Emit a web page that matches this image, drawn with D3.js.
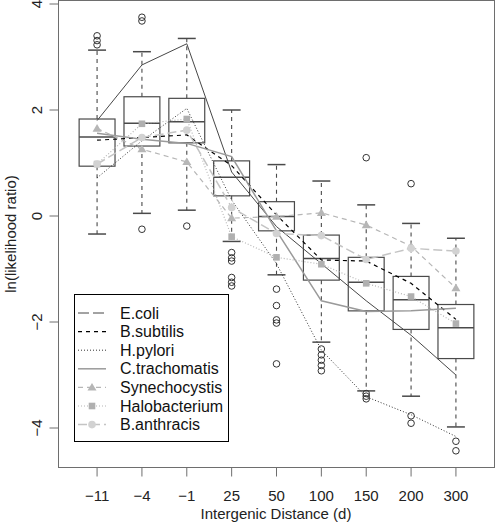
<!DOCTYPE html>
<html><head><meta charset="utf-8">
<script src="https://cdn.jsdelivr.net/npm/d3@7"></script>
<style>html,body{margin:0;padding:0;background:#fff;}svg{display:block;}</style>
</head><body>
<svg id="chart" width="496" height="532"></svg>
<script>
const categories = ["\u221211", "\u22124", "\u22121", "25", "50", "100", "150", "200", "300"];
const whiskerLo = [-0.34, 0.05, 0.11, -0.48, -1.11, -2.38, -3.30, -3.40, -3.98];
const q1 =        [0.94, 1.32, 1.38, 0.38, -0.28, -1.21, -1.79, -2.14, -2.69];
const median =    [1.49, 1.75, 1.78, 0.73, -0.01, -0.80, -1.25, -1.58, -2.11];
const q3 =        [1.83, 2.25, 2.22, 1.04, 0.27, -0.36, -0.78, -1.14, -1.67];
const whiskerHi = [3.13, 3.10, 3.35, 2.00, 0.97, 0.66, 0.21, -0.14, -0.42];
const outliers = [
  [3.40, 3.31, 3.23],
  [3.75, 3.68, -0.25],
  [-0.19],
  [-0.69, -0.79, -0.85, -1.16, -1.25, -1.32],
  [-1.38, -1.69, -1.96, -2.02, -2.79],
  [-2.51, -2.62, -2.72, -2.82, -2.92],
  [1.10, -3.35, -3.40, -3.45],
  [0.61, -3.77, -3.91],
  [-4.25, -4.43]
];
const yTicks = [4, 2, 0, -2, -4];
const yTickLabels = ["4", "2", "0", "\u22122", "\u22124"];

const seriesNames = ["E.coli", "B.subtilis", "H.pylori", "C.trachomatis", "Synechocystis", "Halobacterium", "B.anthracis"];
const ecoli =         [1.80, 2.85, 3.25, 0.83, -0.20, -0.90, -1.60, -2.25, -3.00];
const bsubtilis =     [1.43, 1.48, 1.53, 0.95, 0.02, -0.83, -0.85, -1.27, -1.95];
const hpylori =       [0.72, 1.42, 2.03, 0.30, -0.90, -2.53, -3.41, -3.75, -4.16];
const ctrachomatis =  [1.56, 1.45, 1.37, 1.12, -0.28, -1.60, -1.80, -1.79, -1.74];
const synechocystis = [1.65, 1.26, 1.02, -0.04, -0.01, 0.06, -0.17, -0.57, -1.36];
const halobacterium = [0.98, 1.74, 1.83, -0.39, -0.78, -0.91, -1.27, -1.52, -2.03];
const banthracis =    [0.98, 1.48, 1.62, 0.16, -0.33, -0.37, -0.82, -0.61, -0.66];

const seriesValues = [ecoli, bsubtilis, hpylori, ctrachomatis, synechocystis, halobacterium, banthracis];
const styles = [
  {color:"#474747", width:1, dash:null, legendDash:"11,4", marker:null},
  {color:"#000", width:1.2, dash:"4,4", legendDash:"4,4", marker:null},
  {color:"#333", width:1, dash:"1,2", legendDash:"1,2", marker:null},
  {color:"#9a9a9a", width:1.5, dash:null, legendDash:null, marker:null},
  {color:"#b6b6b6", width:1.2, dash:"5,4", legendDash:"5,4", marker:"triangle", mcolor:"#b6b6b6"},
  {color:"#b6b6b6", width:1.2, dash:"1,2", legendDash:"1,2", marker:"square", mcolor:"#b0b0b0"},
  {color:"#c4c4c4", width:1.5, dash:"9,4", legendDash:"9,4", marker:"circle", mcolor:"#d2d2d2"}
];

const svg = d3.select("#chart");
const pLeft = 58.5, pRight = 494.5, pTop = 0.5, pBottom = 467.5;
const x = d3.scaleLinear().domain([0.14, 9.86]).range([pLeft, pRight]);
const y = d3.scaleLinear().domain([-4, 4]).range([428, 4]);
const font = "'Liberation Sans', Arial, Helvetica, sans-serif";
const boxColor = "#4a4a4a";
const hw = 0.4, capw = 0.2;

// boxes
const g = svg.append("g");
categories.forEach((c, i) => {
  const cx = x(i + 1);
  const x0 = x(i + 1 - hw), x1 = x(i + 1 + hw);
  const c0 = x(i + 1 - capw), c1 = x(i + 1 + capw);
  g.append("line").attr("x1", cx).attr("x2", cx).attr("y1", y(q3[i])).attr("y2", y(whiskerHi[i]))
    .attr("stroke", boxColor).attr("stroke-dasharray", "4,4").attr("stroke-width", 1.1);
  g.append("line").attr("x1", cx).attr("x2", cx).attr("y1", y(q1[i])).attr("y2", y(whiskerLo[i]))
    .attr("stroke", boxColor).attr("stroke-dasharray", "4,4").attr("stroke-width", 1.1);
  [whiskerHi[i], whiskerLo[i]].forEach(v => {
    g.append("line").attr("x1", c0).attr("x2", c1).attr("y1", y(v)).attr("y2", y(v))
      .attr("stroke", boxColor).attr("stroke-width", 1.5);
  });
  g.append("rect").attr("x", x0).attr("y", y(q3[i])).attr("width", x1 - x0).attr("height", y(q1[i]) - y(q3[i]))
    .attr("fill", "none").attr("stroke", boxColor).attr("stroke-width", 1.2);
  g.append("line").attr("x1", x0).attr("x2", x1).attr("y1", y(median[i])).attr("y2", y(median[i]))
    .attr("stroke", boxColor).attr("stroke-width", 1.5);
  outliers[i].forEach(v => {
    g.append("circle").attr("cx", cx).attr("cy", y(v)).attr("r", 3.3)
      .attr("fill", "none").attr("stroke", "#333").attr("stroke-width", 1);
  });
});

function marker(sel, type, cx, cy, color) {
  if (type === "triangle") {
    const s = 4.5;
    sel.append("path").attr("d", `M${cx},${cy - s}L${cx + s},${cy + s * 0.7}L${cx - s},${cy + s * 0.7}Z`).attr("fill", color);
  } else if (type === "square") {
    sel.append("rect").attr("x", cx - 3.3).attr("y", cy - 3.3).attr("width", 6.6).attr("height", 6.6).attr("fill", color);
  } else if (type === "circle") {
    sel.append("circle").attr("cx", cx).attr("cy", cy).attr("r", 3.8).attr("fill", color);
  }
}

// series lines
const line = d3.line().x((d, i) => x(i + 1)).y(d => y(d));
seriesValues.forEach((vals, k) => {
  const st = styles[k];
  const p = svg.append("path").attr("d", line(vals)).attr("fill", "none")
    .attr("stroke", st.color).attr("stroke-width", st.width);
  if (st.dash) p.attr("stroke-dasharray", st.dash);
  if (st.marker) vals.forEach((v, i) => marker(svg, st.marker, x(i + 1), y(v), st.mcolor));
});

// frame
svg.append("rect").attr("x", pLeft).attr("y", pTop).attr("width", pRight - pLeft).attr("height", pBottom - pTop)
  .attr("fill", "none").attr("stroke", "#6e6e6e").attr("stroke-width", 1);

// y axis
yTicks.forEach((t, i) => {
  svg.append("line").attr("x1", pLeft - 9).attr("x2", pLeft).attr("y1", y(t)).attr("y2", y(t))
    .attr("stroke", "#6e6e6e");
  svg.append("text").attr("transform", `translate(42,${y(t)}) rotate(-90)`)
    .attr("text-anchor", "middle").attr("font-family", font).attr("font-size", 15).attr("fill", "#222")
    .text(yTickLabels[i]);
});
// x axis
categories.forEach((c, i) => {
  svg.append("line").attr("x1", x(i + 1)).attr("x2", x(i + 1)).attr("y1", pBottom).attr("y2", pBottom + 9)
    .attr("stroke", "#6e6e6e");
  svg.append("text").attr("x", x(i + 1)).attr("y", 501).attr("text-anchor", "middle")
    .attr("font-family", font).attr("font-size", 15).attr("fill", "#222").text(c);
});
svg.append("text").attr("x", 276).attr("y", 519).attr("text-anchor", "middle")
  .attr("font-family", font).attr("font-size", 15).attr("fill", "#222").text("Intergenic Distance (d)");
svg.append("text").attr("transform", "translate(16,234) rotate(-90)").attr("text-anchor", "middle")
  .attr("font-family", font).attr("font-size", 15).attr("fill", "#222").text("ln(likelihood ratio)");

// legend
const lg = svg.append("g");
lg.append("rect").attr("x", 74.5).attr("y", 294.5).attr("width", 154).attr("height", 147)
  .attr("fill", "#fff").attr("stroke", "#000").attr("stroke-width", 1);
seriesNames.forEach((n, k) => {
  const st = styles[k];
  const ry = 313 + k * 18.6;
  const l = lg.append("line").attr("x1", 78).attr("x2", 106).attr("y1", ry).attr("y2", ry)
    .attr("stroke", st.color).attr("stroke-width", st.width);
  if (st.legendDash) l.attr("stroke-dasharray", st.legendDash);
  if (st.marker) marker(lg, st.marker, 92, ry, st.mcolor);
  lg.append("text").attr("x", 120).attr("y", ry + 5.5).attr("font-family", font).attr("font-size", 16)
    .attr("fill", "#111").text(n);
});
</script>
</body></html>
